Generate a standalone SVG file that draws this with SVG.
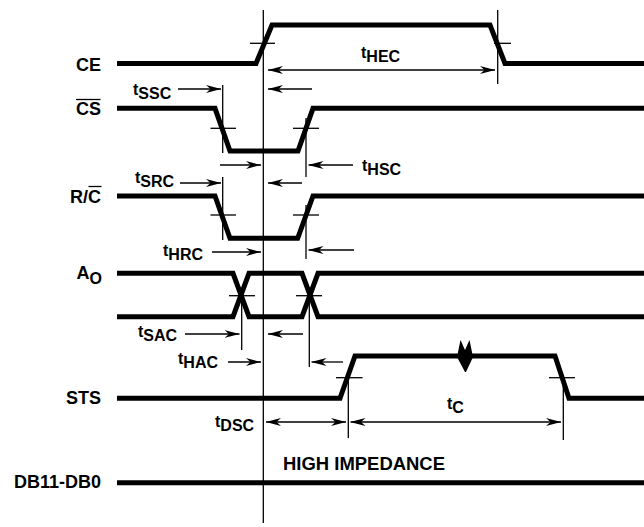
<svg xmlns="http://www.w3.org/2000/svg" width="644" height="527" viewBox="0 0 644 527">
<style>
.bg{fill:#fff}
.w{fill:none;stroke:#000;stroke-width:5;stroke-linejoin:miter;stroke-miterlimit:10}
.th{fill:none;stroke:#000;stroke-width:1.3}
.ar{fill:none;stroke:#000;stroke-width:1.3;marker-end:url(#ah)}
.ad{fill:none;stroke:#000;stroke-width:1.3;marker-end:url(#ah);marker-start:url(#ah)}
.lb{font-family:"Liberation Sans",Arial,sans-serif;font-weight:bold;font-size:18px;fill:#000}
.tl{font-family:"Liberation Sans",Arial,sans-serif;font-weight:bold;font-size:16px;fill:#000}
</style>
<defs>
<marker id="ah" viewBox="0 0 15 9" refX="15" refY="4.5" markerWidth="15" markerHeight="9" markerUnits="userSpaceOnUse" orient="auto-start-reverse">
<path d="M0,0.5 L15,4.5 L0,8.5 L4.5,4.5 Z" fill="#000"/>
</marker>
</defs>
<rect class="bg" x="0" y="0" width="644" height="527"/>

<g id="sig-CE">
<text class="lb" x="101" y="71" text-anchor="end">CE</text>
<polyline class="w" points="117,63.5 256,63.5 272,25 490,25 505,63.5 644,63.5"/>
<line class="th" x1="250" y1="43.3" x2="275" y2="43.3"/>
<line class="th" x1="494" y1="43.3" x2="511" y2="43.3"/>
</g>

<g id="sig-CS">
<text class="lb" x="101" y="115" text-anchor="end">CS</text>
<line class="th" x1="76" y1="99.5" x2="100.5" y2="99.5" stroke-width="1.6"/>
<polyline class="w" points="117,108.3 215,108.3 230,151 298,151 313,108.3 644,108.3"/>
<line class="th" x1="210.5" y1="128.3" x2="236" y2="128.3"/>
<line class="th" x1="293" y1="128.3" x2="319" y2="128.3"/>
</g>

<g id="sig-RC">
<text class="lb" x="101" y="203" text-anchor="end">R/C</text>
<line class="th" x1="88.5" y1="186.5" x2="101.5" y2="186.5" stroke-width="1.6"/>
<polyline class="w" points="117,196 215,196 230,238.3 297.7,238.3 313,196 644,196"/>
<line class="th" x1="210.5" y1="215" x2="236" y2="215"/>
<line class="th" x1="293" y1="215" x2="319" y2="215"/>
</g>

<g id="sig-A0">
<text class="lb" x="76.5" y="279">A<tspan class="tl" x="89.5" y="283.5">O</tspan></text>
<polyline class="w" points="117,273.3 233,273.3 249,316.7 302,316.7 318,273.3 644,273.3"/>
<polyline class="w" points="117,316.7 233,316.7 249,273.3 302,273.3 318,316.7 644,316.7"/>
<line class="th" x1="229" y1="295.7" x2="255" y2="295.7"/>
<line class="th" x1="296" y1="295.7" x2="322" y2="295.7"/>
</g>

<g id="sig-STS">
<text class="lb" x="101" y="404" text-anchor="end">STS</text>
<polyline class="w" points="117,398.3 340,398.3 355,356 555,356 569,398.3 644,398.3"/>
<line class="th" x1="336" y1="377.7" x2="362.5" y2="377.7"/>
<line class="th" x1="549" y1="377.7" x2="575" y2="377.7"/>
<polygon points="457,357 460.5,340 465,350 469.5,340 473,357 466,372 465,372" fill="#000"/>
</g>

<g id="sig-DB">
<text class="lb" x="101" y="488" text-anchor="end">DB11-DB0</text>
<line class="w" x1="117" y1="482.7" x2="644" y2="482.7"/>
<text class="lb" x="283" y="470" textLength="162" lengthAdjust="spacingAndGlyphs">HIGH IMPEDANCE</text>
</g>

<g id="connectors">
<line class="th" x1="263.3" y1="10" x2="263.3" y2="523"/>
<line class="th" x1="497.7" y1="10" x2="497.7" y2="84"/>
<line class="th" x1="222.7" y1="85" x2="222.7" y2="153"/>
<line class="th" x1="306" y1="118" x2="306" y2="177"/>
<line class="th" x1="222.7" y1="177" x2="222.7" y2="240"/>
<line class="th" x1="306" y1="205" x2="306" y2="259"/>
<line class="th" x1="241.7" y1="295" x2="241.7" y2="350"/>
<line class="th" x1="309.3" y1="295" x2="309.3" y2="367"/>
<line class="th" x1="348.3" y1="377" x2="348.3" y2="438"/>
<line class="th" x1="563.3" y1="378" x2="563.3" y2="440"/>

<line class="ad" x1="268" y1="70" x2="495" y2="70"/>
<line class="ar" x1="178" y1="89" x2="221" y2="89"/>
<line class="ar" x1="312" y1="89" x2="268" y2="89"/>
<line class="ar" x1="220" y1="165" x2="261" y2="165"/>
<line class="ar" x1="353" y1="165" x2="308.5" y2="165"/>
<line class="ar" x1="180" y1="183" x2="221" y2="183"/>
<line class="ar" x1="302" y1="183" x2="268" y2="183"/>
<line class="ar" x1="212" y1="252" x2="261" y2="252"/>
<line class="ar" x1="354" y1="250" x2="308.5" y2="250"/>
<line class="ar" x1="185" y1="334" x2="239.5" y2="334"/>
<line class="ar" x1="303" y1="334" x2="268" y2="334"/>
<line class="ar" x1="228" y1="362" x2="261" y2="362"/>
<line class="ar" x1="343" y1="362" x2="311.5" y2="362"/>
<line class="ad" x1="266" y1="422" x2="346" y2="422"/>
<line class="ad" x1="350.5" y1="422" x2="561" y2="422"/>

<text class="tl" x="361" y="58">t<tspan dy="4">HEC</tspan></text>
<text class="tl" x="133" y="95">t<tspan dy="4">SSC</tspan></text>
<text class="tl" x="362" y="171">t<tspan dy="4">HSC</tspan></text>
<text class="tl" x="135" y="183">t<tspan dy="4">SRC</tspan></text>
<text class="tl" x="163" y="256">t<tspan dy="4">HRC</tspan></text>
<text class="tl" x="138" y="337">t<tspan dy="4">SAC</tspan></text>
<text class="tl" x="178" y="364">t<tspan dy="4">HAC</tspan></text>
<text class="tl" x="215" y="427">t<tspan dy="4">DSC</tspan></text>
<text class="tl" x="447" y="409">t<tspan dy="4">C</tspan></text>
</g>
</svg>
